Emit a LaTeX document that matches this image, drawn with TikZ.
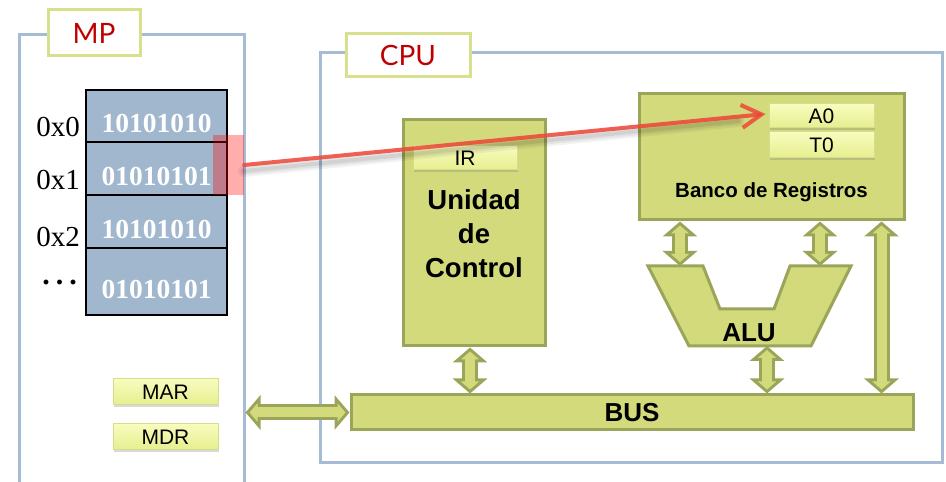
\documentclass[tikz,border=0pt]{standalone}
\usepackage{fontspec}
\setmainfont{Liberation Sans}
\newfontfamily\serifnums{Liberation Serif}
\newfontfamily\titlefont{Lato}
\usetikzlibrary{positioning,arrows.meta,shadows}

\definecolor{framebl}{HTML}{A5BCD4}
\definecolor{titleyl}{HTML}{D8E08E}
\definecolor{titlerd}{HTML}{C00000}
\definecolor{cellbl}{HTML}{A0B7CE}
\definecolor{olivefl}{HTML}{D3DA7C}
\definecolor{olivedk}{HTML}{9BA55A}
\definecolor{regtop}{HTML}{F8FCBE}
\definecolor{regbot}{HTML}{E6EE8E}
\definecolor{regln}{HTML}{D6DE8C}
\definecolor{pathrd}{HTML}{EE4638}

\tikzset{
    frame-box/.style = {draw=framebl, line width=3pt, rectangle, inner sep=0pt},
    frame-title/.style = {draw=titleyl, fill=white, line width=3pt, text=titlerd, inner sep=0pt, font=\titlefont\fontsize{28}{28}\selectfont},
    mem-cell/.style = {draw=black, line width=2.5pt, fill=cellbl, minimum width=141pt, inner sep=0pt, outer sep=0pt, text=white, text height=34pt, text depth=0pt, font=\serifnums\bfseries\fontsize{27.5}{27.5}\selectfont},
    addr/.style = {anchor=base east, inner sep=0pt, font=\serifnums\fontsize{29}{29}\selectfont},
    unit-box/.style = {draw=olivedk, fill=olivefl, line width=3pt, inner sep=0pt},
    unit-label/.style = {inner sep=0pt, font=\bfseries\fontsize{26}{26}\selectfont},
    reg-box/.style = {draw=regln, line width=1pt, top color=regtop, bottom color=regbot, inner sep=0pt, font=\fontsize{21}{21}\selectfont, drop shadow={shadow xshift=1pt, shadow yshift=-2.5pt, opacity=0.3}},
    bidir/.style = {line width=16pt, draw=olivedk,
        {Triangle[length=15pt,width=34pt]}-{Triangle[length=15pt,width=34pt]},
        postaction={draw=olivefl, line width=10pt, shorten <=4pt, shorten >=4pt,
            {Triangle[length=8pt,width=18pt]}-{Triangle[length=8pt,width=18pt]}}},
}

\begin{document}
\begin{tikzpicture}[x=1pt, y=1pt]
\useasboundingbox (0,0) rectangle (946,482);

% memoria principal
\node[frame-box, minimum width=225pt, minimum height=470pt] (mp) at (131.5,212) {};
\node[frame-title, minimum width=92pt, minimum height=46pt] (mp-title) at (94,449) {MP};

\node[mem-cell, minimum height=52pt] (cell0) at (156.5,366) {10101010};
\node[mem-cell, minimum height=53pt, below=0pt of cell0] (cell1) {01010101};
\node[mem-cell, minimum height=53pt, below=0pt of cell1] (cell2) {10101010};
\node[mem-cell, minimum height=67pt, below=0pt of cell2] (cell3) {01010101};

\node[addr] (addr0) at ([xshift=-6pt, yshift=-21pt]cell0.west) {0x0};
\node[addr] (addr1) at ([xshift=-6pt, yshift=-21pt]cell1.west) {0x1};
\node[addr] (addr2) at ([xshift=-6pt, yshift=-25pt]cell2.west) {0x2};
\node[addr, font=\serifnums\bfseries\fontsize{30}{30}\selectfont] (addr3) at ([xshift=-9pt, yshift=-3pt]cell3.west) {.\hspace{6pt}.\hspace{6pt}.};

\node[fill=red, opacity=0.32, minimum width=31pt, minimum height=60pt, inner sep=0pt] (sel) at (228.5,317) {};

\node[reg-box, minimum width=105pt, minimum height=26pt] (mar) at (165.5,90) {MAR};
\node[reg-box, minimum width=105pt, minimum height=26pt] (mdr) at (165.5,45) {MDR};

% procesador
\node[frame-box, minimum width=622pt, minimum height=410pt] (cpu) at (631,224) {};
\node[frame-title, minimum width=124pt, minimum height=43pt] (cpu-title) at (408,426.5) {CPU};

\node[unit-box, minimum width=142pt, minimum height=226pt] (uc) at (474,249) {};
\node[unit-label, align=center, font=\bfseries\fontsize{27.5}{34}\selectfont] (uc-lbl) at (474,248) {Unidad\\de\\Control};
\node[reg-box, minimum width=104pt, minimum height=24pt] (ir) at (465,324) {IR};

\node[unit-box, minimum width=265pt, minimum height=126pt] (banco) at (771.5,325) {};
\node[unit-label, anchor=base, font=\bfseries\fontsize{20.5}{20.5}\selectfont] (banco-lbl) at (771.5,284) {Banco de Registros};
\node[reg-box, minimum width=105pt, minimum height=24pt] (a0) at (821.5,366) {A0};
\node[reg-box, minimum width=105pt, minimum height=26pt, below=3pt of a0] (t0) {T0};

\draw[unit-box] (648,216) -- (703,216) -- (720,173) -- (774,173) -- (790,216) -- (851,216) -- (811,136) -- (689,136) -- cycle;
\node[unit-label, anchor=base] (alu) at (749,140) {ALU};
\coordinate (alu-l) at (680,216);
\coordinate (alu-r) at (820,216);
\coordinate (alu-b) at (767,136);

\node[unit-box, minimum width=562pt, minimum height=35pt] (bus) at (632,69.5) {};
\node[unit-label] (bus-lbl) at (bus.center) {BUS};

% buses internos
\draw[bidir] ([xshift=-4pt]uc.south) -- ([xshift=-4pt]uc.south |- bus.north);
\draw[bidir] (alu-l |- banco.south) -- (alu-l);
\draw[bidir] (alu-r |- banco.south) -- (alu-r);
\draw[bidir] (alu-b) -- (alu-b |- bus.north);
\draw[bidir] ([xshift=-24pt]banco.south east) -- ([xshift=-24pt]banco.south east |- bus.north);
\draw[bidir] (mp.east |- bus.west) -- (bus.west);

% carga de la palabra en A0, con su sombra
\foreach \w/\o in {12/0.05, 8/0.06, 4/0.08}
    \draw[line width=\w pt, black, opacity=\o, line cap=round] ([yshift=-6pt]sel.east) -- ([xshift=-30pt, yshift=-5pt]a0.west);
\draw[line width=4pt, pathrd, opacity=0.85, line cap=round, -{Straight Barb[length=20pt, width=23pt]}] (sel.east) -- ([xshift=-3pt, yshift=2pt]a0.west);
\end{tikzpicture}
\end{document}
